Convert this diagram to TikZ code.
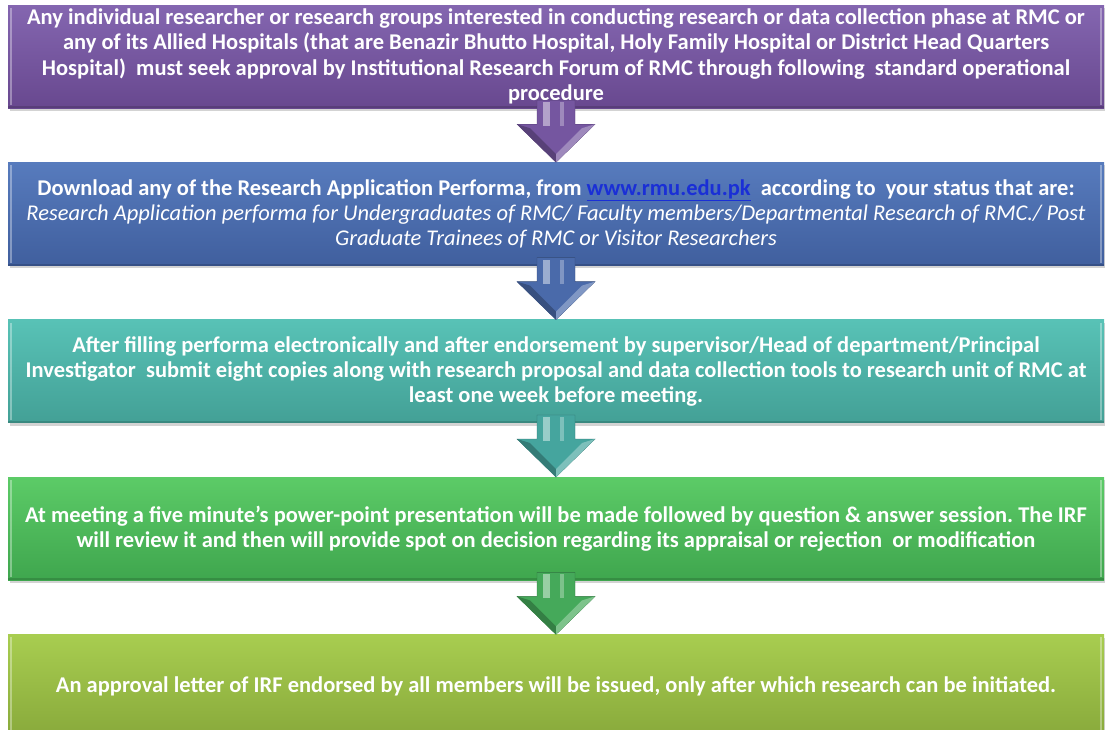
\documentclass[tikz,border=0pt]{standalone}
\usepackage{fontspec}
\setmainfont{Carlito}
\usepackage{tikz}
\usetikzlibrary{positioning, calc, shadows}
\frenchspacing

% Colours
\definecolor{purpTop}{HTML}{8466B0}
\definecolor{purpBot}{HTML}{68488F}
\definecolor{blueTop}{HTML}{577BBD}
\definecolor{blueBot}{HTML}{405F9E}
\definecolor{tealTop}{HTML}{58C2B6}
\definecolor{tealBot}{HTML}{43A096}
\definecolor{grnTop}{HTML}{5CCB67}
\definecolor{grnBot}{HTML}{3FA64E}
\definecolor{limeTop}{HTML}{A8CD50}
\definecolor{limeBot}{HTML}{88A93B}
\definecolor{linkblue}{HTML}{1A2FD6}
\definecolor{purpArrow}{HTML}{7556A0}
\definecolor{blueArrow}{HTML}{4A6AAA}
\definecolor{tealArrow}{HTML}{45A59E}
\definecolor{grnArrow}{HTML}{45A95A}

\tikzset{
    stepbox/.style={rectangle, minimum width=1096pt, minimum height=103pt,
        inner sep=0pt, align=center, text=white, font=\fontsize{22.5}{25.3}\selectfont\bfseries,
        drop shadow={shadow xshift=2pt, shadow yshift=-3pt, opacity=0.35}},
    flowarrow/.style={fill=#1, draw=#1!70!black, line width=0.4pt, line join=miter}
}

\begin{document}
\begin{tikzpicture}[x=1pt, y=1pt, node distance=54pt]
    \useasboundingbox (0,0) rectangle (1105,-729);

    % Boxes
    \node[stepbox, top color=purpTop, bottom color=purpBot] (apply) at (556,-56.5)
        {Any individual researcher or research groups interested in conducting research or data collection phase at RMC or\\
         any of its Allied Hospitals (that are Benazir Bhutto Hospital, Holy Family Hospital or District Head Quarters\\
         Hospital)\ \ must seek approval by Institutional Research Forum of RMC through following\ \ standard operational\\
         procedure};
    \node[stepbox, top color=blueTop, bottom color=blueBot, below=of apply] (download)
        {Download any of the Research Application Performa, from \textcolor{linkblue}{\underline{www.rmu.edu.pk}}\ \ according to\ \ your status that are:\\
         {\mdseries\itshape Research Application performa for Undergraduates of RMC/ Faculty members/Departmental Research of RMC./ Post}\\
         {\mdseries\itshape Graduate Trainees of RMC or Visitor Researchers}};
    \node[stepbox, top color=tealTop, bottom color=tealBot, below=of download] (submit)
        {After filling performa electronically and after endorsement by supervisor/Head of department/Principal\\
         Investigator\ \ submit eight copies along with research proposal and data collection tools to research unit of RMC at\\
         least one week before meeting.};
    \node[stepbox, top color=grnTop, bottom color=grnBot, below=of submit] (meeting)
        {At meeting a five minute’s power-point presentation will be made followed by question \& answer session. The IRF\\
         will review it and then will provide spot on decision regarding its appraisal or rejection\ \ or modification};
    \node[stepbox, top color=limeTop, bottom color=limeBot, below=of meeting] (approval)
        {An approval letter of IRF endorsed by all members will be issued, only after which research can be initiated.};

    % Bevel edges
    \foreach \b in {apply, download, submit, meeting, approval} {
        \draw[white, opacity=0.35, line width=1.5pt] ($(\b.north west)+(3,-3)$) -- ($(\b.south west)+(3,3)$);
        \draw[white, opacity=0.35, line width=1.5pt] ($(\b.north east)+(-3,-3)$) -- ($(\b.south east)+(-3,3)$);
        \draw[black, opacity=0.15, line width=2pt] ($(\b.south west)+(0,1)$) -- ($(\b.south east)+(0,1)$);
    }

    % Arrows
    \foreach \a/\b/\c in {apply/download/purpArrow, download/submit/blueArrow, submit/meeting/tealArrow, meeting/approval/grnArrow} {
        \path[flowarrow=\c]
            ($(\a.south)+(-19,8)$) -- ($(\a.south)+(19,8)$) -- ($(\b.north)+(19,38)$) -- ($(\b.north)+(39,38)$)
            -- (\b.north) -- ($(\b.north)+(-39,38)$) -- ($(\b.north)+(-19,38)$) -- cycle;
        \fill[\c!75!black] ($(\b.north)+(-39,38)$) -- ($(\b.north)+(-26,34)$) -- ($(\b.north)+(0,8)$) -- (\b.north) -- cycle;
        \fill[\c!70!white] ($(\b.north)+(39,38)$) -- ($(\b.north)+(26,34)$) -- ($(\b.north)+(0,8)$) -- (\b.north) -- cycle;
        \fill[white, opacity=0.45] ($(\a.south)+(-13,6)$) rectangle ($(\b.north)+(-6,36)$);
        \fill[white, opacity=0.3] ($(\a.south)+(4,6)$) rectangle ($(\b.north)+(8,36)$);
    }
\end{tikzpicture}
\end{document}
